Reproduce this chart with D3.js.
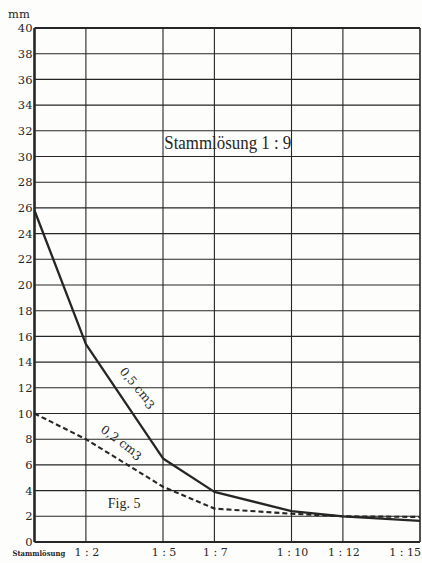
<!DOCTYPE html>
<html>
<head>
<meta charset="utf-8">
<script src="https://cdn.jsdelivr.net/npm/d3@7"></script>
<style>
  html, body { margin: 0; padding: 0; background: #fdfdfc; }
  svg { display: block; }
</style>
</head>
<body>
<svg id="chart" width="422" height="563"></svg>
<script>
// Dilution steps (Stammlösung = undiluted stock, placed at 0)
const dilutions = [0, 2, 5, 7, 10, 12, 15];
const dilutionLabels = ["Stammlösung", "1 : 2", "1 : 5", "1 : 7", "1 : 10", "1 : 12", "1 : 15"];
// Height in mm
const yTickValues = [0, 2, 4, 6, 8, 10, 12, 14, 16, 18, 20, 22, 24, 26, 28, 30, 32, 34, 36, 38, 40];
const values05 = [25.8, 15.4, 6.5, 3.9, 2.4, 2.0, 1.65];   // 0,5 cm3
const values02 = [10.0, 8.0, 4.3, 2.6, 2.2, 2.0, 1.95];    // 0,2 cm3

const ink = "#262626";
const serif = "'DejaVu Serif', 'Liberation Serif', serif";
const textSerif = "'Liberation Serif', 'DejaVu Serif', serif";
const svg = d3.select("#chart");

const x = d3.scaleLinear().domain([0, 15]).range([34.5, 420]);
const y = d3.scaleLinear().domain([0, 40]).range([542, 28]);

// grid
const grid = svg.append("g");
grid.selectAll("line.h").data(yTickValues).join("line")
  .attr("x1", x(0)).attr("x2", x(15))
  .attr("y1", d => y(d)).attr("y2", d => y(d))
  .attr("stroke", ink)
  .attr("stroke-width", d => (d === 0 || d === 40) ? 2.2 : 1.1);
grid.selectAll("line.v").data(dilutions).join("line")
  .attr("x1", d => x(d)).attr("x2", d => x(d))
  .attr("y1", y(0)).attr("y2", y(40))
  .attr("stroke", ink)
  .attr("stroke-width", d => d === 0 ? 2.6 : (d === 15 ? 1.6 : 1.1));

// y axis labels
svg.append("g").selectAll("text").data(yTickValues).join("text")
  .attr("x", x(0) - 2).attr("y", d => y(d)).attr("dy", "0.36em")
  .attr("text-anchor", "end")
  .attr("font-family", serif).attr("font-size", 11.5)
  .attr("fill", ink)
  .text(d => d);
svg.append("text")
  .attr("x", 8).attr("y", 18)
  .attr("font-family", serif).attr("font-size", 11.5)
  .attr("fill", ink).text("mm");

// x axis labels
const xl = svg.append("g");
xl.selectAll("text").data(dilutions.slice(1)).join("text")
  .attr("x", d => x(d) + 1)
  .attr("y", 556)
  .attr("text-anchor", (d, i) => i === dilutions.length - 2 ? "end" : "middle")
  .attr("font-family", serif)
  .attr("font-size", 11)
  .attr("fill", ink)
  .text((d, i) => dilutionLabels[i + 1]);
xl.append("text")
  .attr("x", x(dilutions[0]) - 22).attr("y", 556)
  .attr("font-family", "'DejaVu Serif Condensed', 'DejaVu Serif', serif")
  .attr("font-stretch", "condensed")
  .attr("font-weight", "bold").attr("font-size", 7.6)
  .attr("fill", ink)
  .text(dilutionLabels[0]);

// curves
const line = d3.line().x((d, i) => x(dilutions[i])).y(d => y(d));
svg.append("path").datum(values05)
  .attr("d", line).attr("fill", "none")
  .attr("stroke", ink).attr("stroke-width", 2.3).attr("stroke-linejoin", "round");
svg.append("path").datum(values02)
  .attr("d", line).attr("fill", "none")
  .attr("stroke", ink).attr("stroke-width", 2.1)
  .attr("stroke-dasharray", "5,3");

// curve labels
function curveLabel(cx, cy, angle, amount) {
  const t = svg.append("text")
    .attr("transform", `translate(${x(cx)},${y(cy)}) rotate(${angle})`)
    .attr("text-anchor", "middle")
    .attr("font-family", serif).attr("font-size", 12)
    .attr("fill", ink);
  t.append("tspan").text(amount + " cm");
  t.append("tspan").attr("dy", 2).text("3");
}
curveLabel(3.9, 11.8, 50, "0,5");
curveLabel(3.3, 7.5, 36, "0,2");

// annotations
svg.append("text")
  .attr("x", x(5.05)).attr("y", y(30.6))
  .attr("font-family", textSerif).attr("font-size", 18)
  .attr("textLength", 127).attr("lengthAdjust", "spacingAndGlyphs")
  .attr("fill", ink).text("Stammlösung 1 : 9");
svg.append("text")
  .attr("x", x(2.85)).attr("y", y(2.65))
  .attr("font-family", textSerif).attr("font-size", 14)
  .attr("fill", ink).text("Fig. 5");
</script>
</body>
</html>
